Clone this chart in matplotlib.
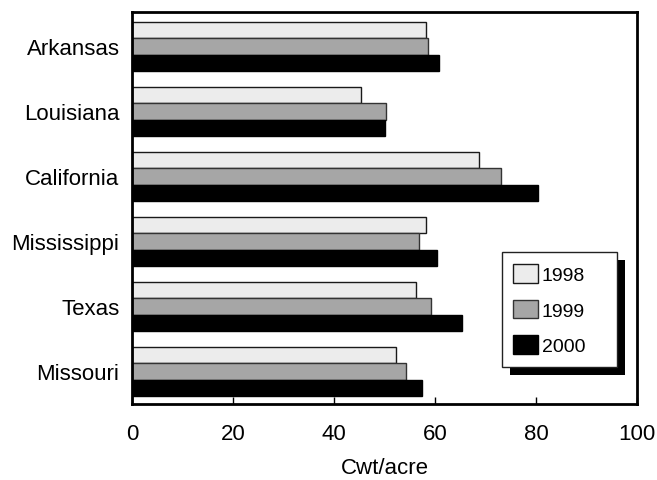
import matplotlib
matplotlib.use("Agg")
import matplotlib.pyplot as plt
import numpy as np
from matplotlib.patches import Rectangle

plt.rcParams['font.family'] = ['Liberation Sans', 'DejaVu Sans']

states = ["Arkansas", "Louisiana", "California", "Mississippi", "Texas", "Missouri"]
years = ["1998", "1999", "2000"]
yield_1998 = [58.3, 45.4, 68.8, 58.3, 56.3, 52.3]
yield_1999 = [58.6, 50.3, 73.0, 56.8, 59.2, 54.3]
yield_2000 = [60.8, 50.1, 80.4, 60.3, 65.3, 57.4]

colors = ["#ececec", "#a6a6a6", "#000000"]
edges = ["#1a1a1a", "#333333", "#000000"]

fig = plt.figure(figsize=(6.57, 4.81), dpi=100)
ax = fig.add_axes([0.2009, 0.158, 0.7687, 0.815])

n = len(states)
ypos = np.arange(n)[::-1].astype(float)
h = 0.25
series = [yield_1998, yield_1999, yield_2000]
for i, (vals, c, ec, lab) in enumerate(zip(series, colors, edges, years)):
    ax.barh(ypos + h - i * h, vals, height=h, color=c, edgecolor=ec,
            linewidth=1.0, label=lab, zorder=2)

ax.set_xlim(0, 100)
ax.set_ylim(-0.5, n - 0.5 + 0.03)
ax.set_yticks(ypos)
ax.set_yticklabels(states, fontsize=16)
ax.set_xticks([0, 20, 40, 60, 80, 100])
ax.tick_params(axis='x', direction='in', length=5, width=1, labelsize=16, pad=14)
ax.tick_params(axis='y', length=0, pad=9)
ax.set_xlabel("Cwt/acre", fontsize=16, labelpad=9)
for s in ax.spines.values():
    s.set_linewidth(2)

# legend box stretched to a fixed width, entries stay left aligned
leg = ax.legend(loc='lower left', bbox_to_anchor=(0.732, 0.095, 0.228, 0.3),
                mode='expand', fontsize=14, frameon=True, fancybox=False,
                framealpha=1, facecolor='white', edgecolor='#222222',
                handlelength=1.25, handleheight=1.1, labelspacing=0.8,
                handletextpad=0.2, borderpad=0.6, borderaxespad=0)
leg.get_frame().set_linewidth(1)
leg.set_zorder(5)

# drop shadow behind the legend box
fig.canvas.draw()
bb = leg.get_frame().get_window_extent()
inv = ax.transAxes.inverted()
(x0, y0) = inv.transform((bb.x0 + 8, bb.y0 - 8))
(x1, y1) = inv.transform((bb.x1 + 8, bb.y1 - 8))
ax.add_patch(Rectangle((x0, y0), x1 - x0, y1 - y0, transform=ax.transAxes,
                       facecolor='black', edgecolor='none', zorder=4.5, clip_on=False))

fig.savefig("out.png", dpi=100)
